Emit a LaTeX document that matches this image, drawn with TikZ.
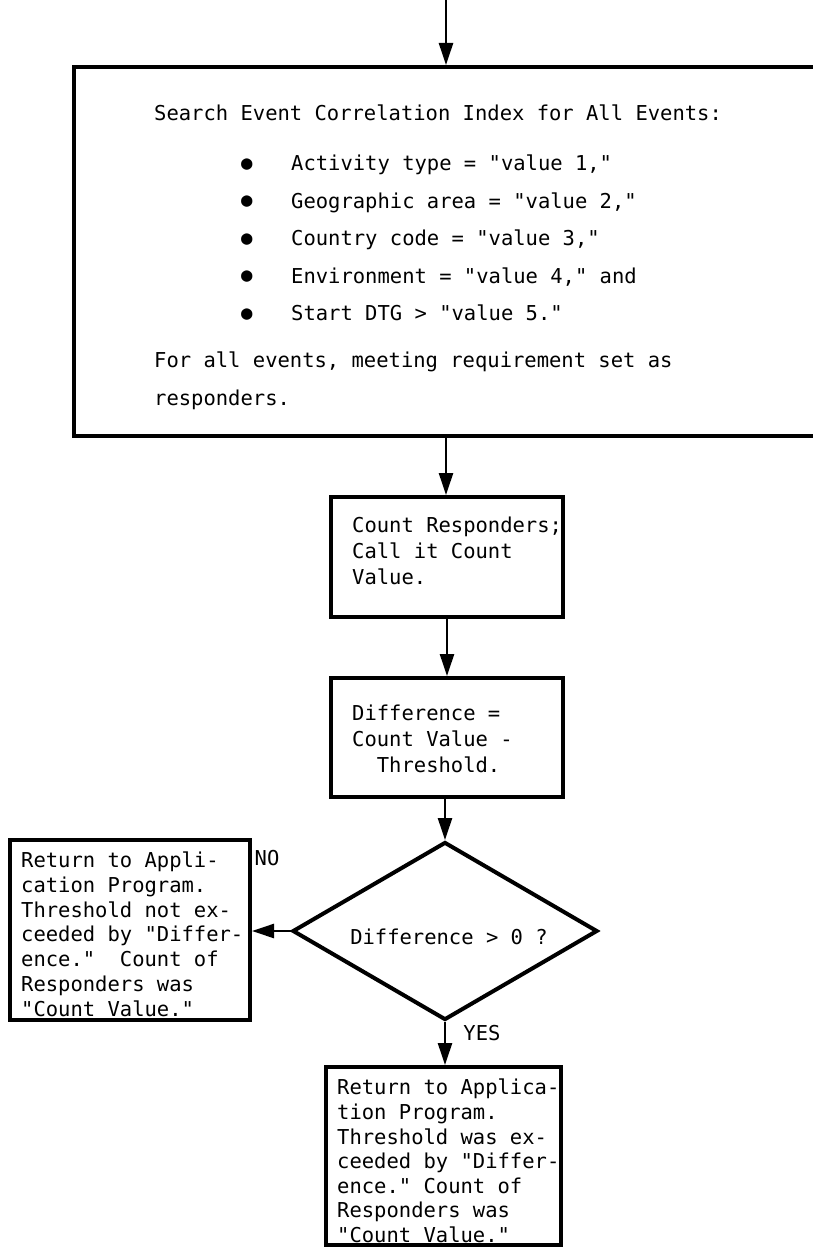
\documentclass[tikz,border=0pt]{standalone}
\usepackage{fontspec}
\newfontfamily\mono{DejaVu Sans Mono}
\usetikzlibrary{arrows.meta,shapes.geometric}
\newcommand{\blt}{\makebox[50pt][l]{\raisebox{1.5pt}{\fontsize{19}{19}\selectfont ●}}}
\begin{document}
\begin{tikzpicture}[x=1pt,y=-1pt,
  box/.style={draw,line width=4pt,inner sep=0pt,rectangle},
  txt/.style={inner sep=0pt,anchor=north west,align=left},
  arr/.style={line width=2.5pt,-{Triangle[length=22pt,width=14pt]}},
  lbl/.style={inner sep=0pt},
  every node/.append style={font=\mono\frenchspacing\fontsize{20.5}{25}\selectfont}]
\useasboundingbox (0,0) rectangle (812,1247);
% boxes
\node[box,minimum width=780pt,minimum height=369pt] (big) at (464,251.5) {};
\node[box,minimum width=232pt,minimum height=120pt] (count) at (447,557) {};
\node[box,minimum width=232pt,minimum height=119pt] (diff) at (447,737.5) {};
\node[diamond,draw,line width=4pt,inner sep=0pt,minimum width=305pt,minimum height=178pt] (dec) at (445,931) {};
\node[box,minimum width=240pt,minimum height=180pt] (no) at (130,930) {};
\node[box,minimum width=235pt,minimum height=178pt] (yes) at (443.5,1156) {};
% texts
\node[txt] (bigA) at (154,105) {Search Event Correlation Index for All Events:};
\node[txt,font=\mono\frenchspacing\fontsize{20.5}{37.5}\selectfont] (bigB) at (241,155)
  {\blt Activity type = "value 1,"\\
   \blt Geographic area = "value 2,"\\
   \blt Country code = "value 3,"\\
   \blt Environment = "value 4," and\\
   \blt Start DTG > "value 5."};
\node[txt,font=\mono\frenchspacing\fontsize{20.5}{37.5}\selectfont] (bigC) at (154,352)
  {For all events, meeting requirement set as\\responders.};
\node[txt,font=\mono\frenchspacing\fontsize{20.5}{26}\selectfont] (countT) at (352,517)
  {Count Responders;\\Call it Count\\Value.};
\node[txt,font=\mono\frenchspacing\fontsize{20.5}{26}\selectfont] (diffT) at (352,705)
  {Difference =\\Count Value -\\\phantom{xx}Threshold.};
\node[lbl] (decT) at (449,937) {Difference > 0 ?};
\node[txt,font=\mono\frenchspacing\fontsize{20.5}{24.7}\selectfont] (noT) at (21,852)
  {Return to Appli-\\cation Program.\\Threshold not ex-\\ceeded by "Differ-\\ence."\ \ Count of\\Responders was\\"Count Value."};
\node[txt,font=\mono\frenchspacing\fontsize{20.5}{24.6}\selectfont] (yesT) at (337,1079)
  {Return to Applica-\\tion Program.\\Threshold was ex-\\ceeded by "Differ-\\ence." Count of\\Responders was\\"Count Value."};
\node[lbl] (nolbl) at (267,858) {NO};
\node[lbl] (yeslbl) at (482,1033) {YES};
% connectors
\coordinate (top) at (446,-5);
\draw[arr] (top) -- (top |- big.north);
\draw[arr] (big.south -| top) -- (count.north -| top);
\draw[arr] (count.south) -- (diff.north);
\draw[arr] (diff.south -| dec.north) -- (dec.north);
\draw[arr] (dec.west) -- (dec.west -| no.east);
\draw[arr] (dec.south) -- (dec.south |- yes.north);
\end{tikzpicture}
\end{document}
